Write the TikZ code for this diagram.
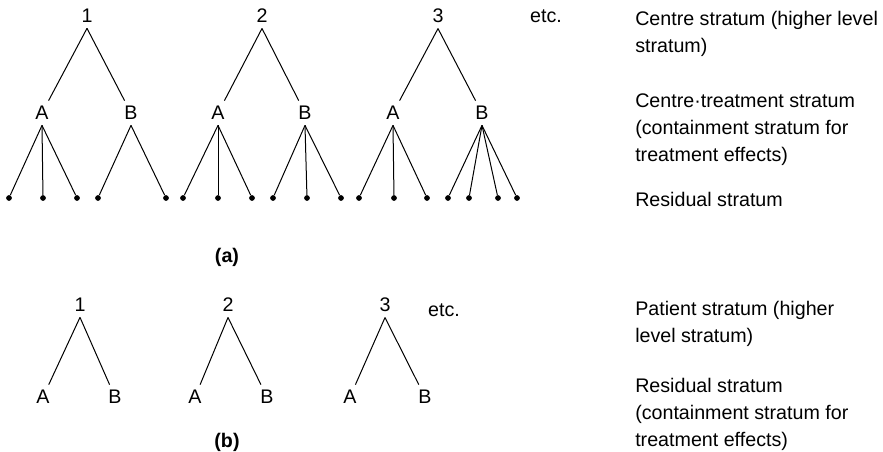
\documentclass[tikz,border=0pt]{standalone}
\usepackage{fontspec}
\setmainfont{Liberation Sans}
\usepackage{tikz}

\begin{document}
\begin{tikzpicture}[%
    x=0.75pt,
    y=-0.75pt,
    every node/.style={
        font=\fontsize{14.75}{20.25}\selectfont,
        inner sep=4pt
    },
    leaf/.style={
        circle,
        fill=black,
        minimum size=4.3pt,
        inner sep=0
    },
    note/.style={
        anchor=base west,
        align=left,
        inner sep=0
    },
    caption/.style={
        font=\fontsize{14.75}{20.25}\selectfont\bfseries
    },
    branch/.style={
        draw,
        black,
        line width=0.75pt
    }
]

\useasboundingbox (0, 0) rectangle (883, 452);

% (a) centres
\node (r1) at (87, 16) {1};
\node (r2) at (262, 16) {2};
\node (r3) at (438, 16) {3};
\node (etca) at (546, 16) {etc.};

\node (a1) at (42, 113) {A};
\node (b1) at (131, 113) {B};
\node (a2) at (218, 113) {A};
\node (b2) at (305, 113) {B};
\node (a3) at (393, 113) {A};
\node (b3) at (482, 113) {B};

\draw [branch] (r1.south) -- (a1);
\draw [branch] (r1.south) -- (b1);
\draw [branch] (r2.south) -- (a2);
\draw [branch] (r2.south) -- (b2);
\draw [branch] (r3.south) -- (a3);
\draw [branch] (r3.south) -- (b3);

\foreach \name/\x/\parent in {
    l11/9/a1, l12/43/a1, l13/77/a1,
    l14/98/b1, l15/166/b1,
    l21/183/a2, l22/218/a2, l23/252/a2,
    l24/273/b2, l25/307/b2, l26/341/b2,
    l31/359/a3, l32/394/a3, l33/427/a3,
    l34/448/b3, l35/469/b3, l36/498/b3, l37/517/b3%
} {
    \node [leaf] (\name) at (\x, 198) {};
    \draw [branch] (\parent.south) -- (\name);
}

\node [caption] (capa) at (227, 257) {(a)};

% (b) patients
\node (p1) at (80, 305) {1};
\node (p2) at (228, 305) {2};
\node (p3) at (385, 305) {3};
\node (etcb) at (444, 310) {etc.};

\node (pa1) at (43, 397) {A};
\node (pb1) at (115, 397) {B};
\node (pa2) at (195, 397) {A};
\node (pb2) at (267, 397) {B};
\node (pa3) at (350, 397) {A};
\node (pb3) at (425, 397) {B};

\draw [branch] (p1.south) -- (pa1);
\draw [branch] (p1.south) -- (pb1);
\draw [branch] (p2.south) -- (pa2);
\draw [branch] (p2.south) -- (pb2);
\draw [branch] (p3.south) -- (pa3);
\draw [branch] (p3.south) -- (pb3);

\node [caption] (capb) at (227, 442) {(b)};

% strata (base = last line)
\node [note] (centre) at (635, 53) {Centre stratum (higher level\\stratum)};
\node [note] (ctreat) at (635, 162) {Centre·treatment stratum\\(containment stratum for\\treatment effects)};
\node [note] (resida) at (635, 207) {Residual stratum};
\node [note] (patient) at (635, 343) {Patient stratum (higher\\level stratum)};
\node [note] (residb) at (635, 447) {Residual stratum\\(containment stratum for\\treatment effects)};

\end{tikzpicture}
\end{document}
